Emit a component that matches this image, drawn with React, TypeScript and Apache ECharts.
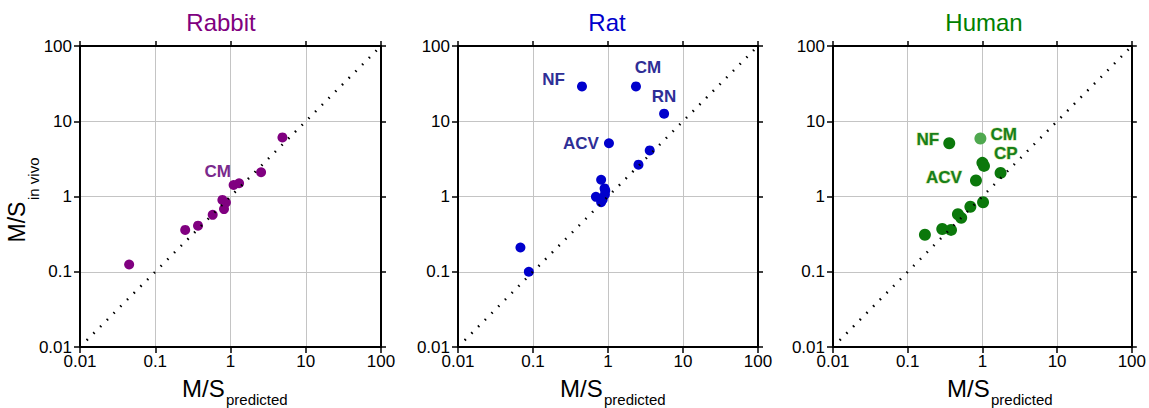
import React, { useEffect, useRef } from 'react';
import * as echarts from 'echarts';

const FONT = 'Arial, "Liberation Sans", Helvetica, sans-serif';

const rabbitPred = [0.045, 0.25, 0.37, 0.58, 0.78, 0.87, 0.82, 1.1, 1.3, 2.55, 4.9];
const rabbitVivo = [0.125, 0.36, 0.41, 0.57, 0.9, 0.83, 0.68, 1.42, 1.5, 2.1, 6.1];
const rabbitNames = ['', '', '', '', '', '', '', 'CM', '', '', ''];

const ratPred = [0.45, 2.36, 5.6, 1.03, 3.6, 2.55, 0.81, 0.9, 0.92, 0.91, 0.69, 0.85, 0.81, 0.068, 0.088];
const ratVivo = [29, 29, 12.6, 5.1, 4.1, 2.65, 1.67, 1.28, 1.2, 1.06, 0.99, 0.91, 0.84, 0.21, 0.1];
const ratNames = ['NF', 'CM', 'RN', 'ACV', '', '', '', '', '', '', '', '', '', '', ''];

const humanPred = [0.36, 0.94, 1.0, 1.05, 1.75, 0.82, 1.02, 0.69, 0.47, 0.52, 0.38, 0.29, 0.17];
const humanVivo = [5.1, 5.9, 2.8, 2.55, 2.06, 1.63, 0.84, 0.73, 0.58, 0.52, 0.36, 0.37, 0.31];
const humanNames = ['NF', 'CM', '', 'CP', '', 'ACV', '', '', '', '', '', '', ''];

const identityLine = [[0.01, 0.01], [100, 100]];
const axisMin = 0.01;
const axisMax = 100;

const labelLayout: Record<string, Record<string, any>> = {
  Rabbit: { CM: { position: 'top', distance: 0, offset: [-16, 0] } },
  Rat: {
    NF: { position: 'left', distance: 12, offset: [0, -7] },
    CM: { position: 'top', distance: 5, offset: [12, 0] },
    RN: { position: 'top', distance: 4, offset: [0, 0] },
    ACV: { position: 'left', distance: 5, offset: [0, 0] },
  },
  Human: {
    NF: { position: 'left', distance: 4, offset: [0, -4] },
    CM: { position: 'right', distance: 4, offset: [0, -4] },
    CP: { position: 'right', distance: 4, offset: [0, -12] },
    ACV: { position: 'left', distance: 8, offset: [0, -3] },
  },
};

const panels = [
  { name: 'Rabbit', pred: rabbitPred, vivo: rabbitVivo, names: rabbitNames, color: '#800080', labelColor: '#7a2a8c', titleColor: '#800080', size: 10, left: 80, width: 301, titleX: 221, xLabelX: 182 },
  { name: 'Rat', pred: ratPred, vivo: ratVivo, names: ratNames, color: '#0000cc', labelColor: '#2e2e96', titleColor: '#0000cc', size: 10, left: 458, width: 300, titleX: 607, xLabelX: 560 },
  { name: 'Human', pred: humanPred, vivo: humanVivo, names: humanNames, color: '#0b780b', labelColor: '#17801a', titleColor: '#008000', size: 12, left: 833, width: 305, titleX: 984, xLabelX: 947 },
];

const fmt = (v: number) => String(Number(Number(v).toPrecision(6)));

export default function App() {
  const ref = useRef<HTMLDivElement>(null);
  useEffect(() => {
    const chart = echarts.init(ref.current!, null, { renderer: 'svg' });
    const grid: any[] = [];
    const xAxis: any[] = [];
    const yAxis: any[] = [];
    const series: any[] = [];
    const graphic: any[] = [];
    const lineStyle = { color: '#000', width: 2 };
    const tickStyle = { color: '#000', width: 1.5 };

    panels.forEach((p, i) => {
      grid.push({ left: p.left, width: p.width, top: 46, height: 301, show: false });
      const base = {
        type: 'log', logBase: 10, gridIndex: i, min: axisMin, max: axisMax,
        axisLine: { show: true, onZero: false, lineStyle },
        axisTick: { show: true, length: 6, lineStyle: tickStyle },
        minorTick: { show: false },
      };
      const lbl = { show: true, fontSize: 17, color: '#000', fontFamily: FONT, margin: 6, formatter: fmt };
      xAxis.push({ ...base, position: 'bottom', axisLabel: lbl, splitLine: { show: true, lineStyle: { color: '#c4c4c4', width: 1 } } });
      xAxis.push({ ...base, position: 'top', axisLabel: { show: false }, splitLine: { show: false }, axisTick: { show: true, length: 5, lineStyle: tickStyle } });
      yAxis.push({ ...base, position: 'left', axisLabel: { ...lbl, margin: 8 }, splitLine: { show: true, lineStyle: { color: '#c4c4c4', width: 1 } } });
      yAxis.push({ ...base, position: 'right', axisLabel: { show: false }, splitLine: { show: false }, axisTick: { show: true, length: 5, lineStyle: tickStyle } });

      const layout = labelLayout[p.name];
      series.push({
        type: 'scatter',
        xAxisIndex: i * 2,
        yAxisIndex: i * 2,
        symbolSize: p.size,
        itemStyle: { color: p.color, opacity: 1 },
        z: 2,
        data: p.pred.map((x, k) => {
          const nm = p.names[k];
          const item: any = { value: [x, p.vivo[k]] };
          if (nm) {
            item.label = {
              show: true,
              formatter: nm,
              fontSize: 17,
              fontWeight: 'bold',
              fontFamily: FONT,
              color: p.labelColor,
              ...(p.name === 'Human' ? { textBorderColor: 'rgba(190,210,110,0.7)', textBorderWidth: 1.2 } : {}),
              ...layout[nm],
            };
            if (p.name === 'Human' && nm === 'CM') item.itemStyle = { color: '#4fa84f' };
          }
          return item;
        }),
      });
      series.push({
        type: 'line',
        xAxisIndex: i * 2,
        yAxisIndex: i * 2,
        data: identityLine,
        symbol: 'none',
        z: 5,
        silent: true,
        lineStyle: { color: '#000', width: 2.5, type: [1.5, 8], cap: 'butt' },
      });

      graphic.push({
        type: 'text', x: p.titleX, y: 22,
        style: { text: p.name, fontSize: 24, fontFamily: FONT, fill: p.titleColor, align: 'center', verticalAlign: 'middle', textAlign: 'center', textVerticalAlign: 'middle' },
      });
      graphic.push({
        type: 'text', x: p.xLabelX, y: 388,
        style: { text: 'M/S', fontSize: 24, fontFamily: FONT, fill: '#000', align: 'left', verticalAlign: 'middle', textAlign: 'left', textVerticalAlign: 'middle' },
      });
      graphic.push({
        type: 'text', x: p.xLabelX + 44, y: 399,
        style: { text: 'predicted', fontSize: 15, fontFamily: FONT, fill: '#000', align: 'left', verticalAlign: 'middle', textAlign: 'left', textVerticalAlign: 'middle' },
      });
    });

    graphic.push({
      type: 'text', x: 17, y: 222, rotation: Math.PI / 2,
      style: { text: 'M/S', fontSize: 23, fontFamily: FONT, fill: '#000', align: 'center', verticalAlign: 'middle', textAlign: 'center', textVerticalAlign: 'middle' },
    });
    graphic.push({
      type: 'text', x: 33, y: 200, rotation: Math.PI / 2,
      style: { text: 'in vivo', fontSize: 15, fontFamily: FONT, fill: '#000', align: 'left', verticalAlign: 'middle', textAlign: 'left', textVerticalAlign: 'middle' },
    });

    chart.setOption({
      animation: false,
      backgroundColor: '#fff',
      grid,
      xAxis,
      yAxis,
      series,
      graphic,
    });
    return () => chart.dispose();
  }, []);
  return <div ref={ref} style={{ position: 'absolute', left: 0, top: 0, width: 1149, height: 408 }} />;
}
